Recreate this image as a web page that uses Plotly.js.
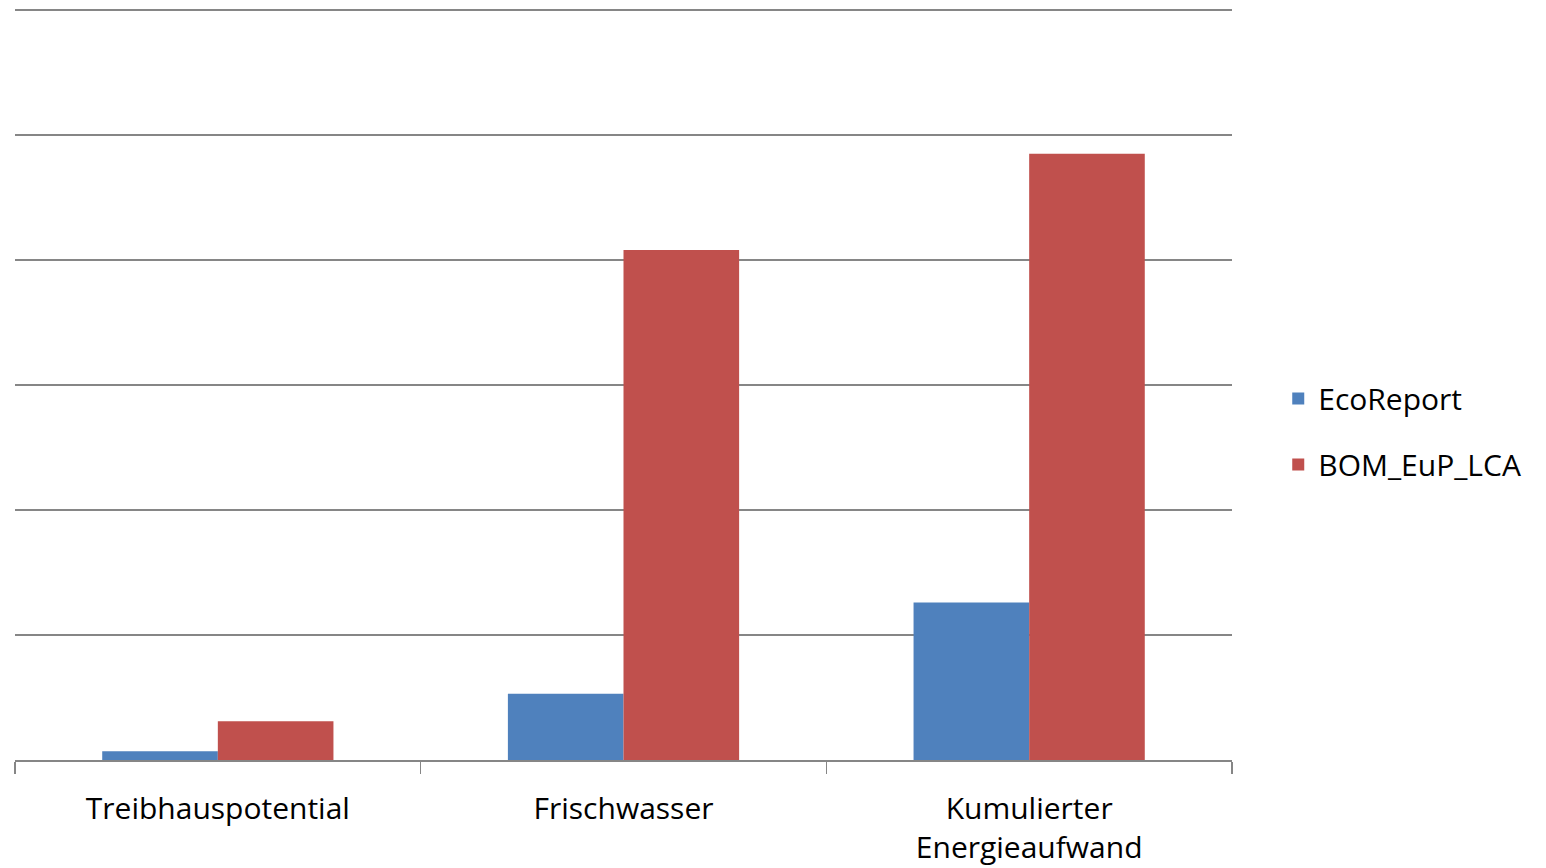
<!DOCTYPE html>
<html>
<head>
<meta charset="utf-8">
<script src="https://cdn.plot.ly/plotly-3.0.1.min.js"></script>
<style>html,body{margin:0;padding:0;background:#fff;}#chart{width:1546px;height:868px;}</style>
</head>
<body>
<div id="chart"></div>
<script>
const categories = ["Treibhauspotential", "Frischwasser", "Kumulierter<br>Energieaufwand"];
const ecoReport = [0.07, 0.53, 1.26];
const bomEupLca = [0.31, 4.08, 4.85];
const seriesNames = ["EcoReport", "BOM_EuP_LCA"];

const font = "Open Sans, Noto Sans, sans-serif";
const traces = [
  {type: "bar", name: seriesNames[0], x: categories, y: ecoReport, marker: {color: "#4F81BD"}, legendgroup: "a"},
  {type: "bar", name: seriesNames[1], x: categories, y: bomEupLca, marker: {color: "#C0504D"}, legendgroup: "b"}
];
const layout = {
  width: 1546, height: 868,
  margin: {l: 15, r: 314, t: 8, b: 108},
  paper_bgcolor: "#fff", plot_bgcolor: "#fff",
  barmode: "group", bargap: 0.43, bargroupgap: 0,
  font: {family: font, size: 30, color: "#000"},
  xaxis: {
    type: "category", showline: true, linecolor: "#868686", linewidth: 1.5,
    ticks: "outside", tickson: "boundaries", ticklen: 12, tickcolor: "#868686", tickwidth: 1.5,
    showgrid: false, tickfont: {family: font, size: 30, color: "#000"}, ticklabelstandoff: 21
  },
  yaxis: {
    range: [0, 6.016], tickvals: [1, 2, 3, 4, 5, 6], showticklabels: false, showgrid: true,
    gridcolor: "#868686", gridwidth: 1.5, zeroline: false, showline: false, ticks: ""
  },
  legend: {x: 1.038, xanchor: "left", y: 0.437, yanchor: "middle", traceorder: "grouped",
    font: {family: font, size: 30, color: "#000"}, itemwidth: 30, tracegroupgap: 24},
  showlegend: true
};
Plotly.newPlot("chart", traces, layout, {displayModeBar: false, staticPlot: true});
</script>
</body>
</html>
